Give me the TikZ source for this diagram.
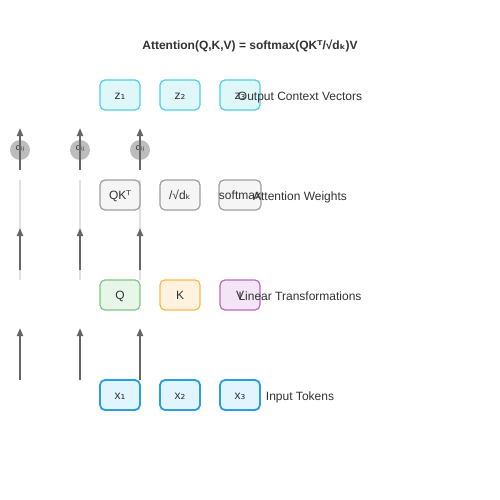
\documentclass[tikz,border=0pt]{standalone}
\usepackage{fontspec}
\setmainfont{Liberation Sans}
\newfontfamily\dv{DejaVu Sans}
\usetikzlibrary{arrows.meta}
\definecolor{txt}{HTML}{333333}
\definecolor{arrowc}{HTML}{666666}
\definecolor{faintc}{HTML}{E0E0E0}
\definecolor{circc}{HTML}{BDBDBD}
\definecolor{zfill}{HTML}{E0F7FA}
\definecolor{zdraw}{HTML}{4DD0E1}
\definecolor{gfill}{HTML}{F5F5F5}
\definecolor{gdraw}{HTML}{9E9E9E}
\definecolor{qfill}{HTML}{E8F5E9}
\definecolor{qdraw}{HTML}{81C784}
\definecolor{kfill}{HTML}{FFF3E0}
\definecolor{kdraw}{HTML}{FFB74D}
\definecolor{vfill}{HTML}{F3E5F5}
\definecolor{vdraw}{HTML}{BA68C8}
\definecolor{xfill}{HTML}{E1F5FE}
\definecolor{xdraw}{HTML}{2A9FDB}
\begin{document}
\begin{tikzpicture}[x=1pt,y=-1pt,
  font=\fontsize{12}{14}\selectfont,
  box/.style={draw, rounded corners=5pt, minimum width=40pt, minimum height=30pt, inner sep=0pt, line width=1.2pt, text=txt, text height=9pt, text depth=0pt},
  zbox/.style={box, fill=zfill, draw=zdraw},
  gbox/.style={box, fill=gfill, draw=gdraw},
  qbox/.style={box, fill=qfill, draw=qdraw},
  kbox/.style={box, fill=kfill, draw=kdraw},
  vbox/.style={box, fill=vfill, draw=vdraw},
  xbox/.style={box, fill=xfill, draw=xdraw, line width=1.8pt},
  arr/.style={draw=arrowc, line width=2pt, -{Triangle[length=8pt,width=6pt]}},
  faint/.style={draw=faintc, line width=2pt},
  lbl/.style={text=txt, anchor=base},
  wcirc/.style={circle, fill=circc, minimum size=20pt, inner sep=0pt},
  wtxt/.style={text=txt, font=\fontsize{9}{10}\selectfont, anchor=base}]
\useasboundingbox[fill=white] (0,0) rectangle (500,500);

% title
\node[text=txt, anchor=base, font=\bfseries\fontsize{12}{14}\selectfont] (title) at (250,49.5) {Attention(Q,K,V) = softmax(QK{\dv ᵀ}/√d{\dv ₖ})V};

% faint lines
\foreach \x/\n in {20/a,80/b,140/c}{
  \coordinate (f\n1) at (\x,180);
  \coordinate (f\n2) at (\x,280);
  \draw[faint] (f\n1) -- (f\n2);
}

% output row
\node[zbox] (z1) at (120,95) {z{\dv ₁}};
\node[zbox] (z2) at (180,95) {z{\dv ₂}};
\node[zbox] (z3) at (240,95) {z{\dv ₃}};
\node[lbl] (lout) at (300,100.3) {Output Context Vectors};

% attention weight row
\node[gbox] (qk) at (120,195) {QK{\dv ᵀ}};
\node[gbox] (sd) at (180,195) {/√d{\dv ₖ}};
\node[gbox] (sm) at (240,195) {softmax};
\node[lbl] (latt) at (300,200.3) {Attention Weights};

% linear row
\node[qbox] (q) at (120,295) {Q};
\node[kbox] (k) at (180,295) {K};
\node[vbox] (v) at (240,295) {V};
\node[lbl] (llin) at (300,300.3) {Linear Transformations};

% input row
\node[xbox] (x1) at (120,395) {x{\dv ₁}};
\node[xbox] (x2) at (180,395) {x{\dv ₂}};
\node[xbox] (x3) at (240,395) {x{\dv ₃}};
\node[lbl] (lin) at (300,400.3) {Input Tokens};

% weight circles
\foreach \x/\n in {20/a,80/b,140/c}{
  \node[wcirc] (w\n) at (\x,150) {};
  \node[wtxt] (wt\n) at (\x,150.5) {α{\dv ᵢⱼ}};
}

% arrows
\foreach \x/\n in {20/a,80/b,140/c}{
  \coordinate (t\n0) at (\x,170);
  \coordinate (t\n1) at (\x,128);
  \draw[arr] (t\n0) -- (t\n1);
  \coordinate (m\n0) at (\x,270);
  \coordinate (m\n1) at (\x,228);
  \draw[arr] (m\n0) -- (m\n1);
  \coordinate (b\n0) at (\x,380);
  \coordinate (b\n1) at (\x,328);
  \draw[arr] (b\n0) -- (b\n1);
}
\end{tikzpicture}
\end{document}
